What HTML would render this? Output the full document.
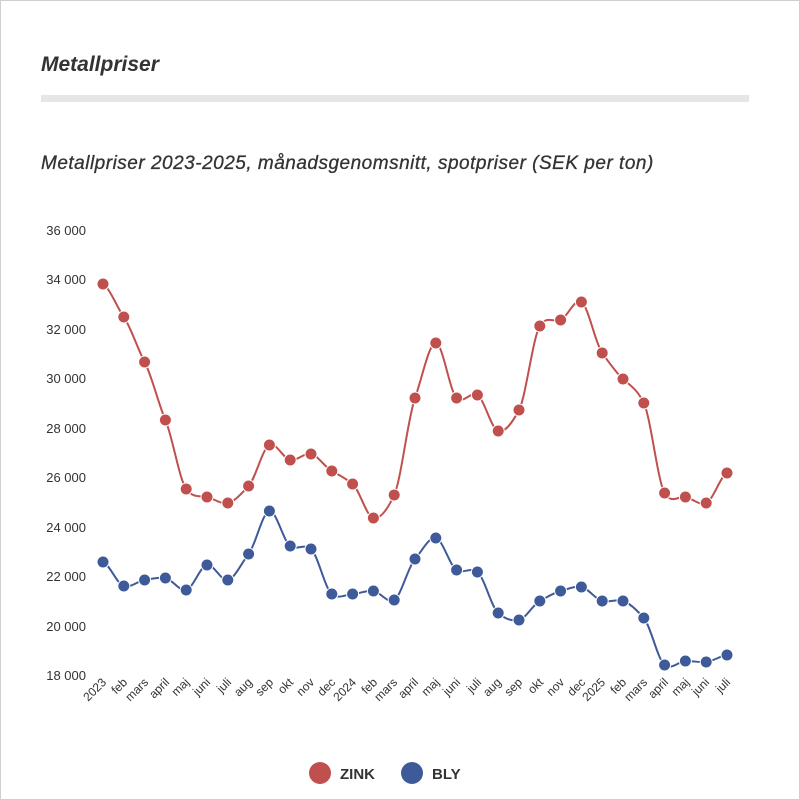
<!DOCTYPE html>
<html><head><meta charset="utf-8"><style>
body{margin:0;background:#fff;}
#f{position:absolute;left:0;top:0;width:798px;height:798px;border:1px solid #d0d0d0;}
text{font-family:"Liberation Sans",sans-serif;}
</style></head><body>
<div id="f"></div>
<svg width="800" height="800" style="position:absolute;left:0;top:0">
<text x="41" y="71" font-size="21" font-weight="bold" font-style="italic" fill="#333">Metallpriser</text>
<rect x="41" y="95" width="708" height="7" fill="#e6e6e6"/>
<text x="41" y="169" font-size="19" font-style="italic" letter-spacing="0.5" fill="#333" stroke="#333" stroke-width="0.3">Metallpriser 2023-2025, månadsgenomsnitt, spotpriser (SEK per ton)</text>
<g font-size="13" fill="#333" text-anchor="end">
<text x="86" y="235">36 000</text><text x="86" y="284">34 000</text><text x="86" y="334">32 000</text>
<text x="86" y="383">30 000</text><text x="86" y="433">28 000</text><text x="86" y="482">26 000</text>
<text x="86" y="532">24 000</text><text x="86" y="581">22 000</text><text x="86" y="631">20 000</text>
<text x="86" y="680">18 000</text>
</g>
<path id="zl" fill="none" stroke="#c0504d" stroke-width="2"/>
<path id="bl" fill="none" stroke="#3f5a98" stroke-width="2"/>
<g id="zd" fill="#c0504d" stroke="#fff" stroke-width="1"></g>
<g id="bd" fill="#3f5a98" stroke="#fff" stroke-width="1"></g>
<circle cx="320" cy="773" r="11" fill="#c0504d"/>
<text x="340" y="779" font-size="15" font-weight="bold" fill="#333">ZINK</text>
<circle cx="412" cy="773" r="11" fill="#3f5a98"/>
<text x="432" y="779" font-size="15" font-weight="bold" fill="#333">BLY</text>
<g font-size="12" fill="#333" text-anchor="end">
<text transform="translate(107,683) rotate(-45)">2023</text>
<text transform="translate(128,683) rotate(-45)">feb</text>
<text transform="translate(149,683) rotate(-45)">mars</text>
<text transform="translate(170,683) rotate(-45)">april</text>
<text transform="translate(190,683) rotate(-45)">maj</text>
<text transform="translate(211,683) rotate(-45)">juni</text>
<text transform="translate(232,683) rotate(-45)">juli</text>
<text transform="translate(253,683) rotate(-45)">aug</text>
<text transform="translate(274,683) rotate(-45)">sep</text>
<text transform="translate(294,683) rotate(-45)">okt</text>
<text transform="translate(315,683) rotate(-45)">nov</text>
<text transform="translate(336,683) rotate(-45)">dec</text>
<text transform="translate(357,683) rotate(-45)">2024</text>
<text transform="translate(378,683) rotate(-45)">feb</text>
<text transform="translate(398,683) rotate(-45)">mars</text>
<text transform="translate(419,683) rotate(-45)">april</text>
<text transform="translate(440,683) rotate(-45)">maj</text>
<text transform="translate(461,683) rotate(-45)">juni</text>
<text transform="translate(482,683) rotate(-45)">juli</text>
<text transform="translate(502,683) rotate(-45)">aug</text>
<text transform="translate(523,683) rotate(-45)">sep</text>
<text transform="translate(544,683) rotate(-45)">okt</text>
<text transform="translate(565,683) rotate(-45)">nov</text>
<text transform="translate(586,683) rotate(-45)">dec</text>
<text transform="translate(606,683) rotate(-45)">2025</text>
<text transform="translate(627,683) rotate(-45)">feb</text>
<text transform="translate(648,683) rotate(-45)">mars</text>
<text transform="translate(669,683) rotate(-45)">april</text>
<text transform="translate(690,683) rotate(-45)">maj</text>
<text transform="translate(710,683) rotate(-45)">juni</text>
<text transform="translate(731,683) rotate(-45)">juli</text>
</g>
</svg>
<script>
var Z=[284,317,362,420,489,497,503,486,445,460,454,471,484,518,495,398,343,398,395,431,410,326,320,302,353,379,403,493,497,503,473];
var B=[562,586,580,578,590,565,580,554,511,546,549,594,594,591,600,559,538,570,572,613,620,601,591,587,601,601,618,665,661,662,655];
function X(i){return 103+i*20.8;}
function path(a){var d="M"+X(0)+","+a[0];for(var i=0;i<a.length-1;i++){var p0=a[Math.max(i-1,0)],p1=a[i],p2=a[i+1],p3=a[Math.min(i+2,a.length-1)];
var x1=X(i),x2=X(i+1),dx=20.8/3;d+=" C"+(x1+dx)+","+(p1+(p2-p0)/8)+" "+(x2-dx)+","+(p2-(p3-p1)/8)+" "+x2+","+p2;}return d;}
function dots(a,id){var g=document.getElementById(id),s="";a.forEach(function(v,i){s+='<circle cx="'+X(i)+'" cy="'+v+'" r="6"/>';});g.innerHTML=s;}
document.getElementById("zl").setAttribute("d",path(Z));
document.getElementById("bl").setAttribute("d",path(B));
dots(Z,"zd");dots(B,"bd");
</script>
</body></html>
